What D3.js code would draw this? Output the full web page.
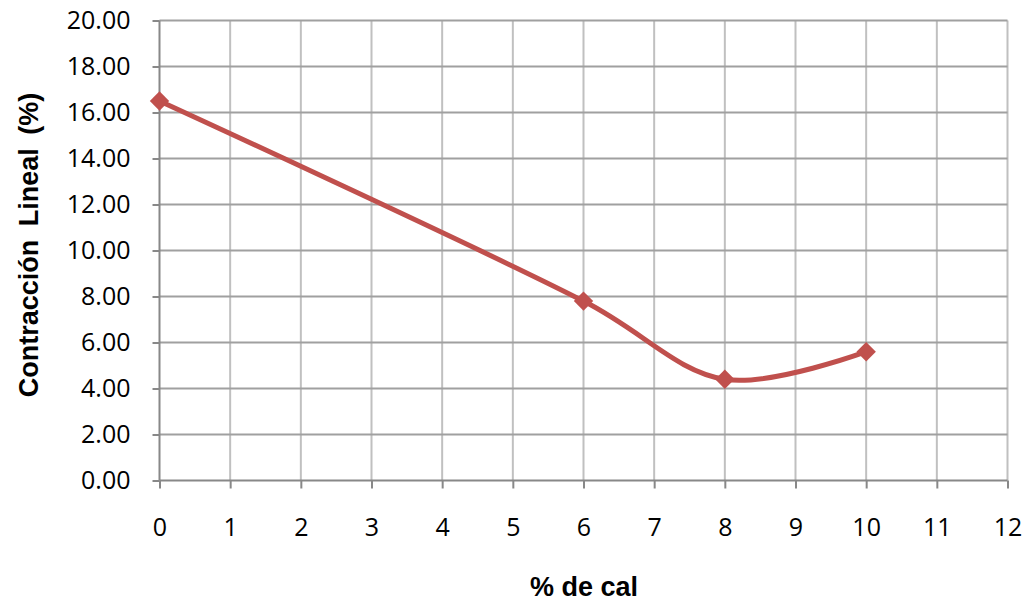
<!DOCTYPE html>
<html>
<head>
<meta charset="utf-8">
<script src="https://cdn.jsdelivr.net/npm/d3@7"></script>
<style>
  body { margin: 0; background: #fff; }
  svg { display: block; }
</style>
</head>
<body>
<svg id="chart" width="1029" height="603"></svg>
<script>
// data
var calPct = [0, 6, 8, 10];
var contraccion = [16.5, 7.8, 4.4, 5.6];
var xTicks = [0, 1, 2, 3, 4, 5, 6, 7, 8, 9, 10, 11, 12];
var yTicks = [0, 2, 4, 6, 8, 10, 12, 14, 16, 18, 20];

var svg = d3.select('#chart');
var pLeft = 159.5, pRight = 1007.5, pTop = 20.5, pBottom = 480.5;

var x = d3.scaleLinear().domain([0, 12]).range([pLeft, pRight]);
var y = d3.scaleLinear().domain([0, 20]).range([pBottom, pTop]);

// grid
svg.append('g').selectAll('line')
  .data(xTicks.slice(1))
  .enter().append('line')
  .attr('x1', function(d){ return x(d); })
  .attr('x2', function(d){ return x(d); })
  .attr('y1', pTop).attr('y2', pBottom)
  .attr('stroke', '#c0c0c0').attr('stroke-width', 2);

svg.append('g').selectAll('line')
  .data(yTicks.slice(1))
  .enter().append('line')
  .attr('x1', pLeft).attr('x2', pRight)
  .attr('y1', function(d){ return y(d); })
  .attr('y2', function(d){ return y(d); })
  .attr('stroke', '#a0a0a0').attr('stroke-width', 2);

// axes
var xAxis = d3.axisBottom(x).tickValues(xTicks).tickSize(8).tickPadding(30)
  .tickFormat(d3.format('d'));
var gx = svg.append('g').attr('transform', 'translate(0,' + pBottom + ')').call(xAxis);

var yAxis = d3.axisLeft(y).tickValues(yTicks).tickSize(7).tickPadding(22)
  .tickFormat(d3.format('.2f'));
var gy = svg.append('g').attr('transform', 'translate(' + pLeft + ',0)').call(yAxis);

[gx, gy].forEach(function(g){
  g.select('.domain').attr('stroke', '#888').attr('stroke-width', 2);
  g.selectAll('.tick line').attr('stroke', '#888').attr('stroke-width', 2);
  g.selectAll('.tick text')
    .attr('fill', '#000')
    .style('font-family', '"Open Sans", sans-serif')
    .style('font-size', '25px');
});
gy.select('.domain').attr('d', 'M0,' + pTop + 'V' + pBottom);
gx.select('.domain').attr('d', 'M' + pLeft + ',0H' + pRight);

// series
var pts = calPct.map(function(d, i){ return [d, contraccion[i]]; });
var line = d3.line()
  .x(function(d){ return x(d[0]); })
  .y(function(d){ return y(d[1]); })
  .curve(d3.curveCatmullRom.alpha(0.5));

svg.append('path')
  .datum(pts)
  .attr('d', line)
  .attr('fill', 'none')
  .attr('stroke', '#c0504d')
  .attr('stroke-width', 5)
  .attr('stroke-linejoin', 'round');

svg.append('g').selectAll('path')
  .data(pts)
  .enter().append('path')
  .attr('d', d3.symbol().type(d3.symbolDiamond2).size(240))
  .attr('transform', function(d){ return 'translate(' + x(d[0]) + ',' + y(d[1]) + ')'; })
  .attr('fill', '#c0504d');

// titles
svg.append('text')
  .attr('transform', 'translate(38,245) rotate(-90)')
  .attr('text-anchor', 'middle')
  .style('font-family', '"Liberation Sans", Arial, sans-serif')
  .style('font-weight', 'bold')
  .style('font-size', '27px')
  .style('word-spacing', '6px')
  .text('Contracción Lineal (%)');

svg.append('text')
  .attr('x', 584)
  .attr('y', 596)
  .attr('text-anchor', 'middle')
  .style('font-family', '"Liberation Sans", Arial, sans-serif')
  .style('font-weight', 'bold')
  .style('font-size', '27px')
  .text('% de cal');
</script>
</body>
</html>
